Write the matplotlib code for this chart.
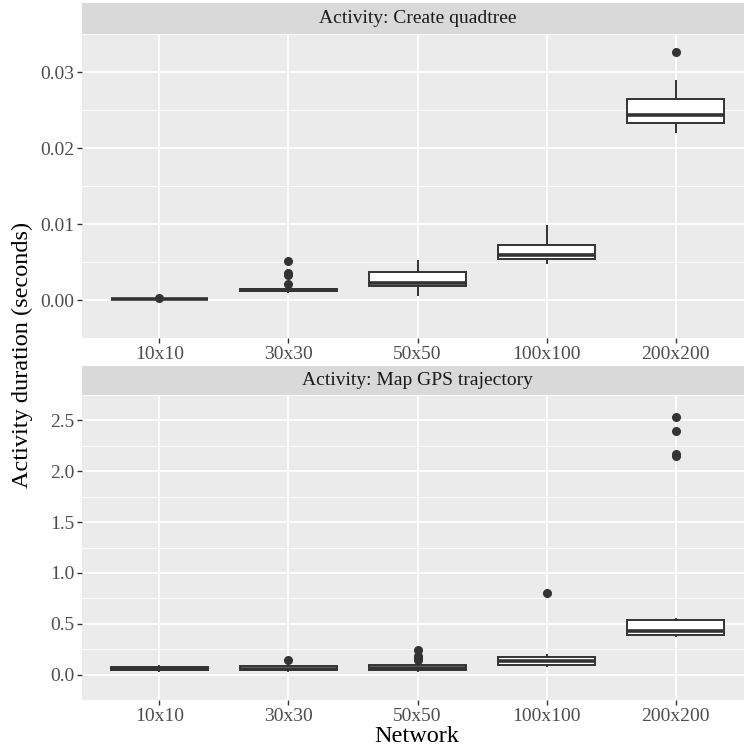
import numpy as np
import matplotlib
matplotlib.use("Agg")
import matplotlib.pyplot as plt

plt.rcParams['font.family'] = ['Liberation Serif', 'DejaVu Serif']

networks = ['10x10', '30x30', '50x50', '100x100', '200x200']

# Activity: Create quadtree (seconds)
quad_whislo = [0.00005, 0.0011, 0.0007, 0.0049, 0.0221]
quad_q1 = [0.00008, 0.0012, 0.00185, 0.00541, 0.02333]
quad_med = [0.00010, 0.00133, 0.00227, 0.00588, 0.02439]
quad_q3 = [0.00013, 0.0014, 0.00373, 0.00726, 0.02639]
quad_whishi = [0.00020, 0.0017, 0.00518, 0.00968, 0.02882]
quad_fliers = [[0.00027], [0.0051, 0.0035, 0.0033, 0.00215], [], [], [0.03262]]

# Activity: Map GPS trajectory (seconds)
gps_whislo = [0.035, 0.035, 0.040, 0.085, 0.376]
gps_q1 = [0.045, 0.042, 0.050, 0.092, 0.387]
gps_med = [0.058, 0.058, 0.068, 0.132, 0.426]
gps_q3 = [0.072, 0.084, 0.096, 0.172, 0.534]
gps_whishi = [0.088, 0.108, 0.120, 0.195, 0.547]
gps_fliers = [[], [0.144], [0.246, 0.186, 0.165, 0.146], [0.80], [2.529, 2.40, 2.168, 2.146]]

panels = [
    ('Activity: Create quadtree', quad_whislo, quad_q1, quad_med, quad_q3, quad_whishi, quad_fliers,
     [0.0, 0.01, 0.02, 0.03], ['0.00', '0.01', '0.02', '0.03'], 0.005, (-0.00153, 0.03424)),
    ('Activity: Map GPS trajectory', gps_whislo, gps_q1, gps_med, gps_q3, gps_whishi, gps_fliers,
     [0.0, 0.5, 1.0, 1.5, 2.0, 2.5], ['0.0', '0.5', '1.0', '1.5', '2.0', '2.5'], 0.25, (-0.09, 2.658)),
]

W, H = 744, 747
fig = plt.figure(figsize=(W / 100, H / 100), dpi=100)

# panel boxes in pixels: (top_strip, top_panel, bottom_panel)
layout = [(3, 34, 338), (366, 395, 700)]
left_px, right_px = 82, 753

grey = '#333333'
for (title, wlo, q1, med, q3, whi, fl, ticks, labels, minor, ylim), (st, pt, pb) in zip(panels, layout):
    ax = fig.add_axes([left_px / W, 1 - pb / H, (right_px - left_px) / W, (pb - pt) / H])
    ax.set_facecolor('#EBEBEB')
    stats = []
    for i in range(len(networks)):
        stats.append(dict(whislo=wlo[i], q1=q1[i], med=med[i], q3=q3[i], whishi=whi[i],
                          fliers=fl[i], label=networks[i]))
    ax.bxp(stats, positions=np.arange(1, 6), widths=0.75, patch_artist=True,
           showcaps=False, zorder=3,
           boxprops=dict(facecolor='white', edgecolor=grey, linewidth=1.4),
           medianprops=dict(color=grey, linewidth=2.6),
           whiskerprops=dict(color=grey, linewidth=1.4),
           flierprops=dict(marker='o', markerfacecolor=grey, markeredgecolor=grey,
                           markersize=5.5, linestyle='none'))
    ax.set_xlim(0.4, 5.6)
    ax.set_ylim(*ylim)
    ax.set_yticks(ticks)
    ax.set_yticklabels(labels)
    mt = np.arange(ticks[0] - minor, ticks[-1] + 2 * minor, 2 * minor)
    ax.set_yticks(mt, minor=True)
    ax.set_xticks(np.arange(1, 6))
    ax.set_xticklabels(networks)
    ax.grid(True, which='major', color='white', linewidth=1.3, zorder=0)
    ax.grid(True, which='minor', axis='y', color='white', linewidth=0.6, zorder=0)
    ax.set_axisbelow(True)
    for s in ax.spines.values():
        s.set_visible(False)
    ax.tick_params(which='major', length=3.5, width=1.0, color=grey, labelsize=14,
                   labelcolor='#4D4D4D', pad=2)
    ax.tick_params(which='minor', length=0)
    # strip
    sax = fig.add_axes([left_px / W, 1 - pt / H, (right_px - left_px) / W, (pt - st) / H])
    sax.set_facecolor('#D9D9D9')
    sax.set_xticks([])
    sax.set_yticks([])
    for s in sax.spines.values():
        s.set_visible(False)
    sax.text(0.5, 0.5, title, ha='center', va='center', fontsize=14, color='#1A1A1A',
             transform=sax.transAxes)

fig.text(22 / W, 1 - 355 / H, 'Activity duration (seconds)', rotation=90, ha='center',
         va='center', fontsize=17.5, color='black')
fig.text(417 / W, 1 - 736 / H, 'Network', ha='center', va='center', fontsize=17.5, color='black')

fig.savefig('out.png', dpi=100)
